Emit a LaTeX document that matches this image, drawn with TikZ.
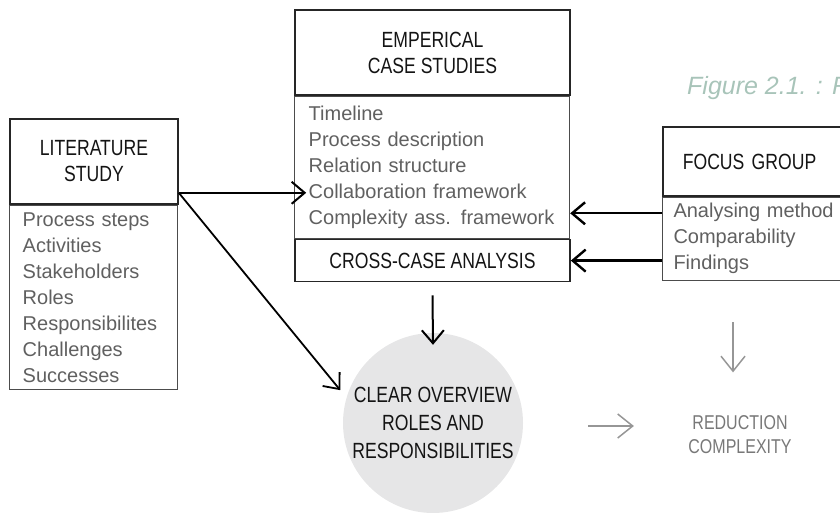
\documentclass[tikz,border=0pt]{standalone}
\usepackage{fontspec}
\setmainfont{Liberation Sans}
\newfontfamily\hdrfont[FakeStretch=0.8]{Liberation Sans}
\usepackage{tikz}
\usetikzlibrary{arrows.meta,positioning}
\definecolor{txtgray}{RGB}{96,96,96}
\definecolor{arrgray}{RGB}{150,150,150}
\definecolor{redgray}{RGB}{120,120,120}
\definecolor{circfill}{RGB}{230,230,231}
\definecolor{capcol}{RGB}{168,196,185}

\tikzset{
  hdr/.style={draw=black!85, line width=1.6pt, text=black!92, font=\hdrfont\fontsize{22}{26}\selectfont, align=center, inner sep=0pt},
  lst/.style={draw=black!70, line width=1pt, text=txtgray, font=\fontsize{20}{26}\selectfont, align=left, anchor=north west, inner ysep=0pt},
  arr/.style={line width=2pt, -{Straight Barb[length=13pt,width=22pt]}},
  garr/.style={draw=arrgray, line width=1.5pt, -{Straight Barb[length=15pt,width=24pt]}}
}

\begin{document}
\begin{tikzpicture}[x=1pt,y=-1pt]
			\useasboundingbox (0,0) rectangle (840,518);
			\clip (0,0) rectangle (840,518);
			% literature
			\node[hdr, minimum width=168pt, minimum height=85pt] (lit) at (94,161.5) {LITERATURE\\STUDY};
			\node[lst, text width=142pt, inner xsep=13pt, minimum height=184pt] (litlist) at (lit.south west) {Process steps\\Activities\\Stakeholders\\Roles\\Responsibilites\\Challenges\\Successes};
			% case studies
			\node[hdr, minimum width=275pt, minimum height=85pt] (emp) at (432.5,52.5) {EMPERICAL\\CASE STUDIES};
			\node[lst, text width=247pt, inner xsep=14pt, minimum height=142pt] (emplist) at (emp.south west) {Timeline\\Process description\\Relation structure\\Collaboration framework\\Complexity ass. framework};
			\node[hdr, minimum width=275pt, minimum height=42pt, anchor=north west] (cross) at (emplist.south west) {CROSS-CASE ANALYSIS};
			% focus group
			\node[hdr, align=left, text width=200pt, inner xsep=20pt, minimum height=69pt, anchor=west] (focus) at (662,161.5) {FOCUS GROUP};
			\node[lst, text width=220pt, inner xsep=11pt, minimum height=83pt] (focuslist) at (focus.south west) {Analysing method\\Comparability\\Findings};
			% results
			\node[circle, fill=circfill, minimum size=180pt, inner sep=0pt, align=center, text=black!92, font=\hdrfont\fontsize{22}{28}\selectfont] (ovw) at (433,423) {CLEAR OVERVIEW\\ROLES AND\\RESPONSIBILITIES};
			\node[align=center, text=redgray, font=\hdrfont\fontsize{20}{24}\selectfont] (red) at (740,435) {REDUCTION\\COMPLEXITY};
			\node[anchor=base west, text=capcol, inner sep=0pt, font=\itshape\fontsize{25}{30}\selectfont] (cap) at (687,95) {Figure 2.1. : R};
			% connectors
			\coordinate (litout) at ([yshift=12pt]lit.south east);
			\coordinate (collab) at (emplist.west |- litout);
			\coordinate (anl) at ([yshift=-16.5pt]focus.south west);
			\coordinate (gin) at ([xshift=65pt,yshift=-3pt]ovw.east);
			\coordinate (gout) at ([xshift=-51pt]red.west);
			\draw[arr] (litout) -- ([xshift=12pt]collab);
			\draw[arr, line width=1.8pt] (litout) -- ([xshift=-8pt,yshift=2pt]ovw.160);
			\draw[arr] ([yshift=-13pt]cross.south) -- ([yshift=-12pt]ovw.north);
			\draw[arr, line width=2.4pt] (anl) -- (emplist.east |- anl);
			\draw[arr, line width=2.4pt] (focuslist.west |- cross.east) -- (cross.east);
			\draw[garr] (gin) -- (gout |- gin);
			\draw[garr] ([xshift=-7pt,yshift=90pt]red.north) -- ([xshift=-7pt,yshift=40pt]red.north);
		\end{tikzpicture}
\end{document}
